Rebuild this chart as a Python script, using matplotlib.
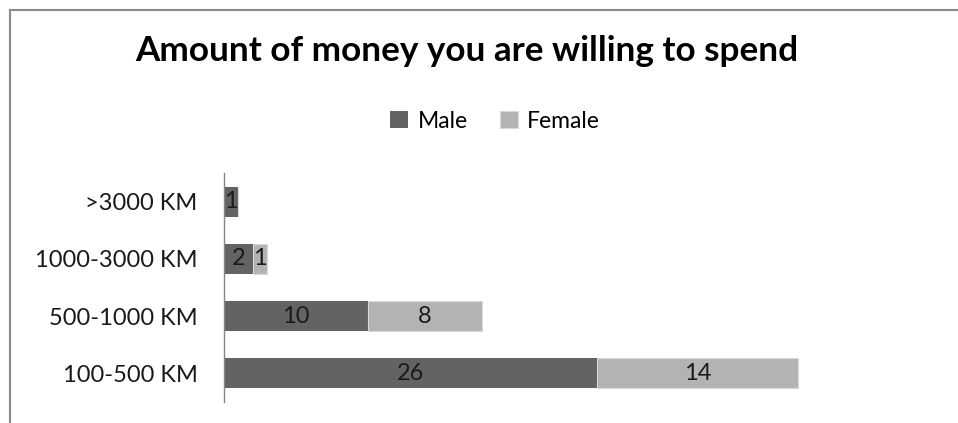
import matplotlib
matplotlib.use("Agg")
import matplotlib.pyplot as plt
from matplotlib.lines import Line2D

plt.rcParams["font.family"] = ["Lato", "DejaVu Sans"]

categories = ["100-500 KM", "500-1000 KM", "1000-3000 KM", ">3000 KM"]
male = [26, 10, 2, 1]
female = [14, 8, 1, 0]

W, H = 958, 423
fig = plt.figure(figsize=(W / 100, H / 100), dpi=100)

# plot area in pixel terms
x0, x1 = 224, 898
y_top, y_bot = 173, 402
ax = fig.add_axes([x0 / W, 1 - y_bot / H, (x1 - x0) / W, (y_bot - y_top) / H])

ypos = range(len(categories))
bar_h = 0.52
b1 = ax.barh(ypos, male, height=bar_h, color="#636363", label="Male")
b2 = ax.barh(ypos, female, height=bar_h, left=male, color="#b3b3b3",
             edgecolor="#d9d9d9", linewidth=0.8, label="Female")

for bars, vals in ((b1, male), (b2, female)):
    for rect, v in zip(bars, vals):
        if v == 0:
            continue
        ax.text(rect.get_x() + rect.get_width() / 2, rect.get_y() + rect.get_height() / 2,
                str(v), ha="center", va="center", fontsize=17, color="#1a1a1a")

ax.set_xlim(0, (x1 - x0) / 14.35)
ax.set_ylim(-0.5, len(categories) - 0.5)
ax.set_yticks(list(ypos))
ax.set_yticklabels(categories, fontsize=17, color="#1a1a1a")
ax.tick_params(axis="y", length=0, pad=19)
ax.set_xticks([])
for s in ("top", "right", "bottom"):
    ax.spines[s].set_visible(False)
ax.spines["left"].set_color("#868686")
ax.spines["left"].set_linewidth(1.0)

fig.text(467 / W, 1 - 51 / H, "Amount of money you are willing to spend",
         ha="center", va="center", fontsize=25.3, fontweight="bold", color="#000000")

fig.legend(handles=[b1, b2], labels=["Male", "Female"], loc="center",
           bbox_to_anchor=(495 / W, 1 - 121 / H), ncol=2, frameon=False,
           fontsize=16.5, handlelength=0.8, handleheight=0.8, handletextpad=0.4,
           columnspacing=1.4)

# outer frame (left and top edges visible)
fig.add_artist(Line2D([10 / W, 10 / W], [0, 1 - 10 / H], transform=fig.transFigure,
                      color="#8a8a8a", linewidth=1.5))
fig.add_artist(Line2D([10 / W, 1], [1 - 10 / H, 1 - 10 / H], transform=fig.transFigure,
                      color="#8a8a8a", linewidth=1.5))

fig.savefig("out.png", dpi=100)
